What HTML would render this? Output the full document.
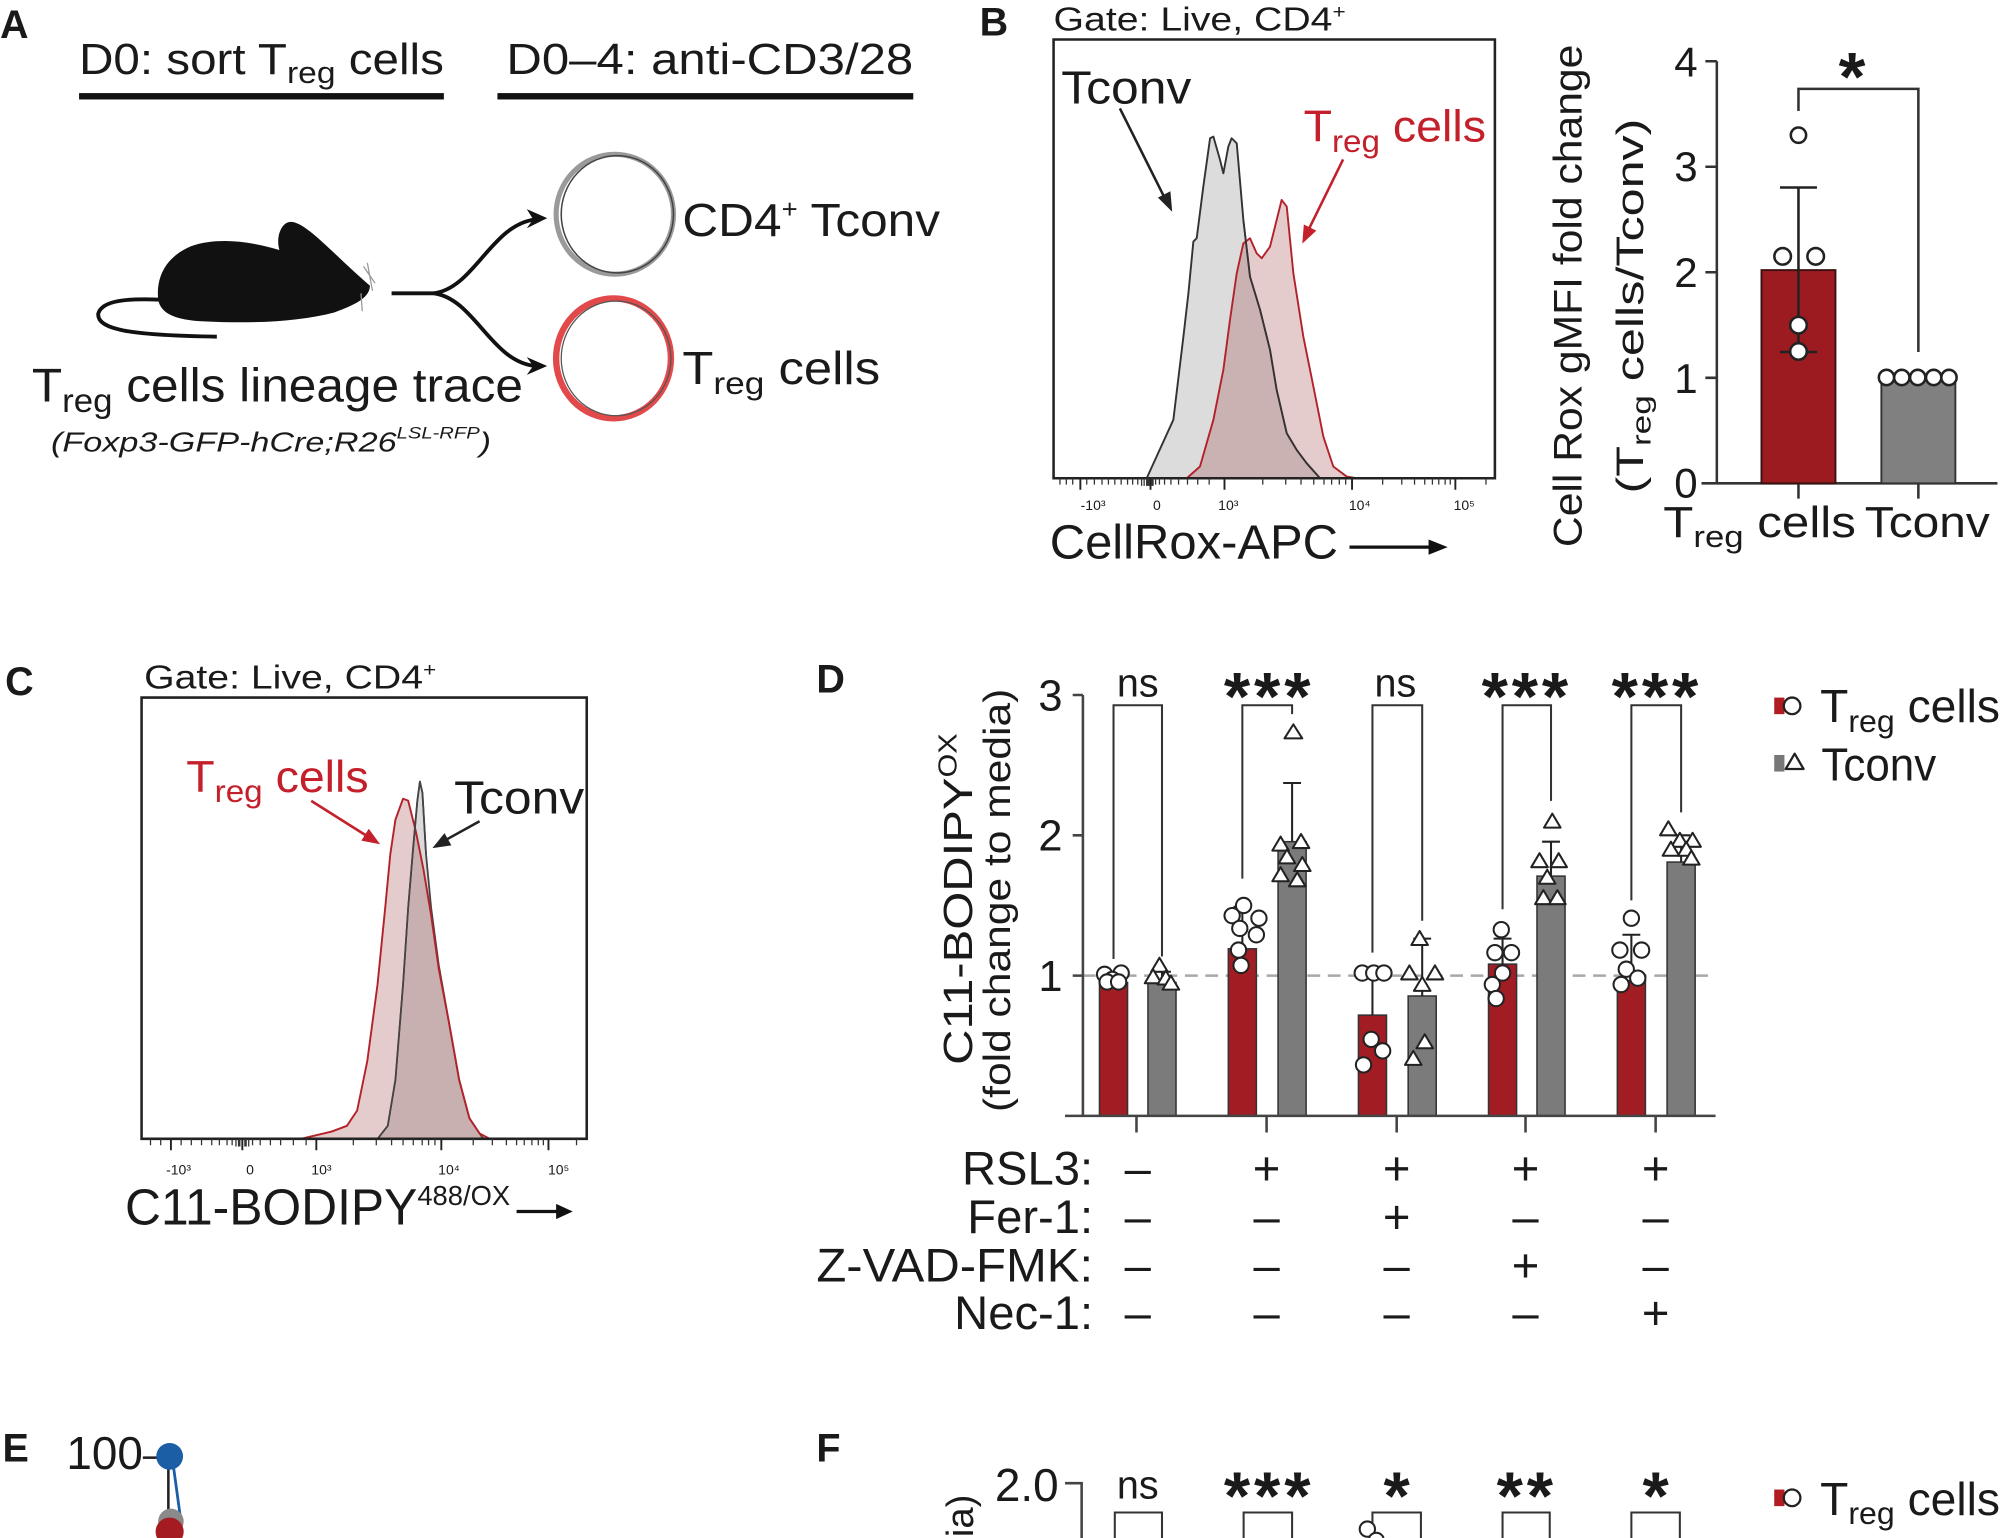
<!DOCTYPE html>
<html><head><meta charset="utf-8"><style>
html,body{margin:0;padding:0;background:#fff;width:2000px;height:1538px;overflow:hidden;}
svg{display:block;overflow:hidden;}
text{font-family:"Liberation Sans",Arial,sans-serif;fill:#1a1a1a;}
</style></head><body>
<svg width="2000" height="1538" viewBox="0 0 1568 1206" preserveAspectRatio="none" xmlns="http://www.w3.org/2000/svg">
<rect width="1568" height="1206" fill="#fff"/>

<!-- ===== Panel A ===== -->
<text x="0" y="30" font-size="31" font-weight="bold">A</text>
<text x="62" y="58" font-size="34" textLength="286" lengthAdjust="spacingAndGlyphs">D0: sort T<tspan font-size="24" dy="7">reg</tspan><tspan dy="-7"> cells</tspan></text>
<rect x="62" y="73" width="286" height="5" fill="#111"/>
<text x="397" y="58" font-size="34" textLength="319" lengthAdjust="spacingAndGlyphs">D0–4: anti-CD3/28</text>
<rect x="390" y="73" width="326" height="5" fill="#111"/>

<!-- mouse -->
<path d="M124,235 C122,214 133,200 150,193 C170,186 196,189 219,196 C216,185 221,174 228,174 C240,174 262,200 290,224 C290,232 282,238 262,245 C235,252 200,254 160,252 C138,251 126,246 124,235 Z" fill="#111"/>
<path d="M126,235 C101,234 80,235 77,246 C76,258 100,263 170,264" fill="none" stroke="#111" stroke-width="3"/>
<path d="M288,206 L292,228 M285,209 L294,222 M283,230 L284,244" stroke="#999" stroke-width="1"/>
<!-- branching arrows -->
<path d="M307,230 H340 C372,226 385,176 420,172 M340,230 C372,234 385,284 420,287" fill="none" stroke="#111" stroke-width="3"/>
<polygon points="429,171 413,164 418,172 413,179" fill="#111"/>
<polygon points="429,287 413,280 418,287 413,294" fill="#111"/>
<!-- cells -->
<ellipse cx="482" cy="168" rx="46" ry="47" fill="#fff" stroke="#9a9a9a" stroke-width="4"/>
<ellipse cx="484" cy="168" rx="44" ry="46" fill="none" stroke="#444" stroke-width="1.2"/>
<ellipse cx="481" cy="281" rx="45" ry="47" fill="#fff" stroke="#e2494b" stroke-width="5"/>
<ellipse cx="483" cy="281" rx="43" ry="45" fill="none" stroke="#555" stroke-width="1"/>
<text x="535" y="185" font-size="36" textLength="202" lengthAdjust="spacingAndGlyphs">CD4<tspan font-size="20" dy="-14">+</tspan><tspan dy="14"> Tconv</tspan></text>
<text x="535" y="301" font-size="36" textLength="155" lengthAdjust="spacingAndGlyphs">T<tspan font-size="25" dy="8">reg</tspan><tspan dy="-8"> cells</tspan></text>
<text x="25" y="315" font-size="37" textLength="385" lengthAdjust="spacingAndGlyphs">T<tspan font-size="26" dy="8">reg</tspan><tspan dy="-8"> cells lineage trace</tspan></text>
<text x="40" y="354" font-size="22" font-style="italic" textLength="345" lengthAdjust="spacingAndGlyphs">(Foxp3-GFP-hCre;R26<tspan font-size="13" dy="-10">LSL-RFP</tspan><tspan dy="10">)</tspan></text>

<!-- ===== Panel B histogram ===== -->
<text x="768" y="28" font-size="31" font-weight="bold">B</text>
<text x="826" y="24" font-size="26" textLength="229" lengthAdjust="spacingAndGlyphs">Gate: Live, CD4<tspan font-size="15" dy="-10">+</tspan></text>
<path d="M899,375 L919.9,329.2 L927.8,263.9 L931.7,230 L935.6,189.4 L938.2,186.8 L943.4,146.3 L948.7,108.4 L951.3,107.1 L956.5,125.4 L959.1,135.9 L963,115 L965.6,108.4 L969.6,112.4 L974.8,172.5 L980,216.9 L987.9,243 L995.7,274.4 L1000.9,305.7 L1008.8,339.7 L1016.6,352.8 L1024.4,363.2 L1034.9,375 Z" fill="#dcdcdc" stroke="#333" stroke-width="1.5" stroke-linejoin="round"/>
<path d="M930.4,375 L940.8,365.8 L951.3,329.2 L959.1,290 L964.3,250.9 L969.6,214.3 L974.8,190.8 L980,186.8 L985.2,198.6 L989.2,202.5 L995.7,193.4 L1000.9,172.5 L1004.8,156.8 L1008.8,162 L1014,214.3 L1021.8,263.9 L1029.7,303.1 L1037.5,342.3 L1045.3,365.8 L1055.8,373.7 L1063.6,375 Z" fill="rgba(150,50,50,0.25)" stroke="#b3222b" stroke-width="1.5" stroke-linejoin="round"/>
<path d="M974.8,172.5 L980,216.9 L987.9,243 L995.7,274.4 L1000.9,305.7 L1008.8,339.7 L1016.6,352.8 L1024.4,363.2 L1034.9,375" fill="none" stroke="#333" stroke-width="1.3"/>
<path d="M826,375 V31 H1172 V375 Z" fill="none" stroke="#222" stroke-width="2"/>
<path d="M847,375v9 M902,375v9 M960,375v9 M1060,375v9 M1141,375v9" stroke="#222" stroke-width="1.5"/>
<path d="M831,375v5 M836,375v5 M841,375v5 M852,375v5 M858,375v5 M864,375v5 M869,375v5 M874,375v5 M879,375v5 M884,375v5 M888,375v5 M892,375v5 M895,375v6 M897,375v6 M899,375v6 M900,375v6 M901,375v6 M903,375v6 M904,375v6 M906,375v5 M909,375v5 M913,375v5 M918,375v5 M924,375v5 M931,375v5 M939,375v5 M948,375v5 M990,375v5 M1008,375v5 M1020,375v5 M1030,375v5 M1038,375v5 M1044,375v5 M1050,375v5 M1055,375v5 M1084,375v5 M1099,375v5 M1109,375v5 M1117,375v5 M1123,375v5 M1128,375v5 M1133,375v5 M1137,375v5 M1165,375v5" stroke="#333" stroke-width="1"/>
<g font-size="11" fill="#444" text-anchor="middle">
<text x="857" y="400">-10³</text><text x="907" y="400">0</text><text x="963" y="400">10³</text><text x="1066" y="400">10⁴</text><text x="1148" y="400">10⁵</text>
</g>
<text x="832" y="81" font-size="36" textLength="102" lengthAdjust="spacingAndGlyphs">Tconv</text>
<path d="M878,85 L914,157" stroke="#222" stroke-width="2"/>
<polygon points="919,166 907.8,155 917.6,150" fill="#222"/>
<text x="1022" y="111" font-size="35" fill="#c3202b" style="fill:#c3202b" textLength="143" lengthAdjust="spacingAndGlyphs">T<tspan font-size="25" dy="8">reg</tspan><tspan dy="-8"> cells</tspan></text>
<path d="M1053,125 L1025,182" stroke="#c3202b" stroke-width="2"/>
<polygon points="1021,191 1022.2,176 1032,180.8" fill="#c3202b"/>
<text x="823" y="438" font-size="38" textLength="226" lengthAdjust="spacingAndGlyphs">CellRox-APC</text>
<path d="M1058,429 H1124" stroke="#111" stroke-width="2.5"/>
<polygon points="1135,429 1120,423 1120,435" fill="#111"/>

<!-- ===== Panel B bar chart ===== -->
<text transform="translate(1240,232) rotate(-90)" text-anchor="middle" font-size="31" textLength="394" lengthAdjust="spacingAndGlyphs">Cell Rox gMFI fold change</text>
<text transform="translate(1288,240) rotate(-90)" text-anchor="middle" font-size="30" textLength="294" lengthAdjust="spacingAndGlyphs">(T<tspan font-size="21" dy="6">reg</tspan><tspan dy="-6"> cells/Tconv)</tspan></text>
<g font-size="33" text-anchor="end">
<text x="1331" y="60">4</text><text x="1331" y="142">3</text><text x="1331" y="225">2</text><text x="1331" y="308">1</text><text x="1331" y="390">0</text>
</g>
<path d="M1346,48 V379 M1337,48 H1346 M1337,130.75 H1346 M1337,213.5 H1346 M1337,296.25 H1346 M1334,379 H1566 M1410,379 V391 M1504,379 V391" stroke="#333" stroke-width="2" fill="none"/>
<rect x="1381" y="211.8" width="58" height="167.2" fill="#9c1b20" stroke="#3a1010" stroke-width="1.5"/>
<rect x="1475" y="297.9" width="58" height="81.1" fill="#808080" stroke="#333" stroke-width="1.5"/>
<path d="M1410,147 V276 M1395.5,147 H1424.5 M1395.5,276 H1424.5" stroke="#222" stroke-width="2"/>
<g fill="#fff" stroke="#222" stroke-width="2">
<circle cx="1410" cy="106" r="6"/><circle cx="1397.6" cy="201" r="6.5"/><circle cx="1423.5" cy="201" r="6.5"/><circle cx="1410" cy="255" r="6.5"/><circle cx="1410" cy="275.6" r="6.5"/>
<circle cx="1479" cy="296" r="6"/><circle cx="1491" cy="296" r="6"/><circle cx="1503.5" cy="296" r="6"/><circle cx="1516" cy="296" r="6"/><circle cx="1528" cy="296" r="6"/>
</g>
<path d="M1410,87 V69.7 H1504 V276" fill="none" stroke="#333" stroke-width="2"/>
<text x="1452" y="79" font-size="54" font-weight="bold" text-anchor="middle">*</text>
<text x="1304" y="421" font-size="34" textLength="151" lengthAdjust="spacingAndGlyphs">T<tspan font-size="24" dy="8">reg</tspan><tspan dy="-8"> cells</tspan></text>
<text x="1462" y="421" font-size="34" textLength="98" lengthAdjust="spacingAndGlyphs">Tconv</text>

<!-- ===== Panel C ===== -->
<text x="4" y="545" font-size="31" font-weight="bold">C</text>
<text x="113" y="540" font-size="26" textLength="229" lengthAdjust="spacingAndGlyphs">Gate: Live, CD4<tspan font-size="15" dy="-10">+</tspan></text>
<path d="M296,893 L304,882.8 L310,846.8 L316,771.8 L320,711.8 L324,663.8 L327.2,627.8 L329.2,612.8 L331.2,621.8 L334,669.8 L338,711.8 L344,756.8 L352,801.8 L360,846.8 L368,876.8 L378,891.8 L380,893 Z" fill="#dadada" stroke="#444" stroke-width="1.4" stroke-linejoin="round"/>
<path d="M236,893 L260,887.3 L272,882.8 L280,870.8 L288,831.8 L296,771.8 L302,711.8 L306,669.8 L310,642.8 L316,626.3 L320,627.8 L326,651.8 L332,681.8 L338,717.8 L344,759.8 L352,801.8 L360,846.8 L368,876.8 L376,888.8 L384,893 Z" fill="rgba(150,50,50,0.25)" stroke="#b3222b" stroke-width="1.5" stroke-linejoin="round"/>
<path d="M296,893 L304,882.8 L310,846.8 L316,771.8 L320,711.8 L324,663.8 L327.2,627.8 L329.2,612.8 L331.2,621.8 L334,669.8" fill="none" stroke="#444" stroke-width="1.3"/>
<path d="M111,893 V547 H460 V893 Z" fill="none" stroke="#222" stroke-width="2"/>
<path d="M134,893v9 M190,893v9 M248,893v9 M346,893v9 M430,893v9" stroke="#222" stroke-width="1.5"/>
<path d="M118,893v5 M126,893v5 M142,893v5 M150,893v5 M158,893v5 M166,893v5 M172,893v5 M178,893v5 M182,893v5 M185,893v6 M187,893v6 M188,893v6 M192,893v6 M193,893v6 M195,893v6 M198,893v5 M204,893v5 M212,893v5 M220,893v5 M230,893v5 M240,893v5 M277,893v5 M295,893v5 M307,893v5 M316,893v5 M324,893v5 M331,893v5 M336,893v5 M341,893v5 M371,893v5 M386,893v5 M397,893v5 M405,893v5 M411,893v5 M417,893v5 M422,893v5 M426,893v5 M452,893v5" stroke="#333" stroke-width="1"/>
<g font-size="11" fill="#444" text-anchor="middle">
<text x="140" y="921">-10³</text><text x="196" y="921">0</text><text x="252" y="921">10³</text><text x="352" y="921">10⁴</text><text x="438" y="921">10⁵</text>
</g>
<text x="146" y="621" font-size="35" fill="#c3202b" style="fill:#c3202b" textLength="143" lengthAdjust="spacingAndGlyphs">T<tspan font-size="25" dy="8">reg</tspan><tspan dy="-8"> cells</tspan></text>
<path d="M244,628 L290,657" stroke="#c3202b" stroke-width="2"/>
<polygon points="298,662 283.3,659.2 289.1,649.9" fill="#c3202b"/>
<text x="356" y="638" font-size="36" textLength="102" lengthAdjust="spacingAndGlyphs">Tconv</text>
<path d="M376,644 L347,660" stroke="#222" stroke-width="2"/>
<polygon points="339,665 348.5,653.3 353.9,662.9" fill="#222"/>
<text x="98" y="960" font-size="40" textLength="302" lengthAdjust="spacingAndGlyphs">C11-BODIPY<tspan font-size="22" dy="-15">488/OX</tspan></text>
<path d="M405,950 H440" stroke="#111" stroke-width="2.5"/>
<polygon points="449,950 436,944 436,956" fill="#111"/>

<!-- ===== Panel D ===== -->
<text x="640" y="543" font-size="31" font-weight="bold">D</text>
<text transform="translate(762,705) rotate(-90)" text-anchor="middle" font-size="32" textLength="260" lengthAdjust="spacingAndGlyphs">C11-BODIPY<tspan font-size="20" dy="-12">OX</tspan></text>
<text transform="translate(792,706) rotate(-90)" text-anchor="middle" font-size="30" textLength="332" lengthAdjust="spacingAndGlyphs">(fold change to media)</text>
<g font-size="34" text-anchor="end">
<text x="833" y="557">3</text><text x="833" y="667">2</text><text x="833" y="777">1</text>
</g>
<path d="M849,765 H1345" stroke="#a8a8a8" stroke-width="2" stroke-dasharray="10 6"/>
<g stroke="#333" stroke-width="1.2">
<rect x="862" y="770.5" width="22" height="104.5" fill="#a11d23"/>
<rect x="900" y="770.5" width="22" height="104.5" fill="#7b7b7b"/>
<rect x="963" y="744" width="22" height="131" fill="#a11d23"/>
<rect x="1002" y="660" width="22" height="215" fill="#7b7b7b"/>
<rect x="1065" y="796" width="22" height="79" fill="#a11d23"/>
<rect x="1104" y="781" width="22" height="94" fill="#7b7b7b"/>
<rect x="1167" y="756" width="22" height="119" fill="#a11d23"/>
<rect x="1205" y="687" width="22" height="188" fill="#7b7b7b"/>
<rect x="1268" y="769" width="22" height="106" fill="#a11d23"/>
<rect x="1307" y="676" width="22" height="199" fill="#7b7b7b"/>
</g>
<path d="M849,545 V875 M841,545 H849 M841,655 H849 M841,765 H849 M835,875 H1345 M891,875 V888 M993,875 V888 M1095,875 V888 M1196,875 V888 M1298,875 V888" stroke="#444" stroke-width="2" fill="none"/>
<!-- error bars -->
<path d="M873,770 V762 M866,762 H880 M911,770 V762 M904,762 H918 M974,744 V711 M967,711 H981 M1013,660 V614 M1006,614 H1020 M1076,796 V762 M1069,762 H1083 M1115,781 V736 M1108,736 H1122 M1178,756 V736 M1171,736 H1185 M1216,687 V660 M1209,660 H1223 M1279,769 V733 M1272,733 H1286 M1318,676 V655 M1311,655 H1325" stroke="#222" stroke-width="1.6"/>
<!-- brackets -->
<path d="M873,752 V553 H911 V750 M974,689 V553 H1013 V560 M1076,747 V553 H1115 V722 M1178,713 V553 H1216 V628 M1279,706 V553 H1318 V637" fill="none" stroke="#333" stroke-width="1.6"/>
<g fill="#fff" stroke="#222" stroke-width="1.6">
<circle cx="866" cy="764" r="6"/><circle cx="879" cy="763" r="6"/><circle cx="872" cy="768" r="6"/><circle cx="868" cy="770" r="6"/><circle cx="877" cy="770" r="6"/>
<circle cx="975" cy="710" r="6"/><circle cx="966" cy="718" r="6"/><circle cx="987" cy="720" r="6"/><circle cx="972" cy="728" r="6"/><circle cx="985" cy="733" r="6"/><circle cx="971" cy="745" r="6"/><circle cx="973" cy="757" r="6"/>
<circle cx="1068" cy="763" r="6"/><circle cx="1077" cy="763" r="6"/><circle cx="1085" cy="763" r="6"/><circle cx="1075" cy="815" r="6"/><circle cx="1084" cy="824" r="6"/><circle cx="1069" cy="835" r="6"/>
<circle cx="1177" cy="729" r="6"/><circle cx="1172" cy="747" r="6"/><circle cx="1185" cy="747" r="6"/><circle cx="1178" cy="763" r="6"/><circle cx="1170" cy="772" r="6"/><circle cx="1173" cy="783" r="6"/>
<circle cx="1279" cy="720" r="6"/><circle cx="1270" cy="745" r="6"/><circle cx="1287" cy="745" r="6"/><circle cx="1275" cy="760" r="6"/><circle cx="1284" cy="767" r="6"/><circle cx="1271" cy="772" r="6"/>
</g>
<g fill="#fff" stroke="#222" stroke-width="1.6" stroke-linejoin="round">
<polygon points="909,751 902.5,762 915.5,762"/><polygon points="904,760 897.5,771 910.5,771"/><polygon points="914,761 907.5,772 920.5,772"/><polygon points="918,765 911.5,776 924.5,776"/>
<polygon points="1014,568 1007,579 1021,579"/><polygon points="1004,656 997.5,667 1010.5,667"/><polygon points="1020,654 1013.5,665 1026.5,665"/><polygon points="1009,666 1002.5,677 1015.5,677"/><polygon points="1021,672 1014.5,683 1027.5,683"/><polygon points="1004,680 997.5,691 1010.5,691"/><polygon points="1017,684 1010.5,695 1023.5,695"/>
<polygon points="1113,730 1106.5,741 1119.5,741"/><polygon points="1105,757 1098.5,768 1111.5,768"/><polygon points="1125,757 1118.5,768 1131.5,768"/><polygon points="1115,766 1108.5,777 1121.5,777"/><polygon points="1117,811 1110.5,822 1123.5,822"/><polygon points="1108,824 1101.5,835 1114.5,835"/>
<polygon points="1217,638 1210.5,649 1223.5,649"/><polygon points="1207,669 1200.5,680 1213.5,680"/><polygon points="1222,669 1215.5,680 1228.5,680"/><polygon points="1213,682 1206.5,693 1219.5,693"/><polygon points="1210,698 1203.5,709 1216.5,709"/><polygon points="1221,698 1214.5,709 1227.5,709"/>
<polygon points="1308,644 1301.5,655 1314.5,655"/><polygon points="1317,653 1310.5,664 1323.5,664"/><polygon points="1327,653 1320.5,664 1333.5,664"/><polygon points="1310,660 1303.5,671 1316.5,671"/><polygon points="1322,660 1315.5,671 1328.5,671"/><polygon points="1326,667 1319.5,678 1332.5,678"/>
</g>
<g text-anchor="middle">
<text x="892" y="546" font-size="31">ns</text>
<text x="1094" y="546" font-size="31">ns</text>
<text x="995" y="564" font-size="53" font-weight="bold" letter-spacing="3">***</text>
<text x="1197" y="564" font-size="53" font-weight="bold" letter-spacing="3">***</text>
<text x="1299" y="564" font-size="53" font-weight="bold" letter-spacing="3">***</text>
</g>
<g font-size="37" text-anchor="end">
<text x="857" y="929">RSL3:</text>
<text x="857" y="967">Fer-1:</text>
<text x="857" y="1005" textLength="217" lengthAdjust="spacingAndGlyphs">Z-VAD-FMK:</text>
<text x="857" y="1042">Nec-1:</text>
</g>
<g font-size="37" text-anchor="middle">
<text x="892" y="929">–</text><text x="993" y="929">+</text><text x="1095" y="929">+</text><text x="1196" y="929">+</text><text x="1298" y="929">+</text>
<text x="892" y="967">–</text><text x="993" y="967">–</text><text x="1095" y="967">+</text><text x="1196" y="967">–</text><text x="1298" y="967">–</text>
<text x="892" y="1005">–</text><text x="993" y="1005">–</text><text x="1095" y="1005">–</text><text x="1196" y="1005">+</text><text x="1298" y="1005">–</text>
<text x="892" y="1042">–</text><text x="993" y="1042">–</text><text x="1095" y="1042">–</text><text x="1196" y="1042">–</text><text x="1298" y="1042">+</text>
</g>
<!-- legend D -->
<rect x="1391" y="547" width="8" height="13" fill="#b01c22"/>
<circle cx="1405" cy="553.5" r="6.5" fill="#fff" stroke="#222" stroke-width="1.8"/>
<text x="1427" y="566" font-size="36" textLength="141" lengthAdjust="spacingAndGlyphs">T<tspan font-size="25" dy="8">reg</tspan><tspan dy="-8"> cells</tspan></text>
<rect x="1391" y="592" width="8" height="13" fill="#777"/>
<polygon points="1407,591 1400,603 1414,603" fill="#fff" stroke="#222" stroke-width="1.8" stroke-linejoin="round"/>
<text x="1428" y="612" font-size="36" textLength="90" lengthAdjust="spacingAndGlyphs">Tconv</text>

<!-- ===== Panel E ===== -->
<text x="2" y="1146" font-size="31" font-weight="bold">E</text>
<text x="52" y="1152" font-size="36" textLength="60" lengthAdjust="spacingAndGlyphs">100</text>
<path d="M112,1143 H124" stroke="#222" stroke-width="2"/>
<path d="M132,1150 V1192" stroke="#222" stroke-width="2"/>
<path d="M136,1150 L142,1194" stroke="#1b5ea6" stroke-width="2.2"/>
<circle cx="133" cy="1142" r="10.5" fill="#1b5ea6"/>
<circle cx="134" cy="1193" r="10" fill="#8a8a8a"/>
<path d="M123.2,1206 A11,11 0 1,1 142.8,1206 Z" fill="#a41c22"/>

<!-- ===== Panel F ===== -->
<text x="640" y="1146" font-size="31" font-weight="bold">F</text>
<text x="830" y="1177" font-size="36" text-anchor="end">2.0</text>
<path d="M835,1163 H848 V1206" fill="none" stroke="#444" stroke-width="2"/>
<text transform="translate(763,1172) rotate(-90)" text-anchor="end" font-size="30">ia)</text>
<g text-anchor="middle">
<text x="892" y="1175" font-size="31">ns</text>
<text x="995" y="1191" font-size="53" font-weight="bold" letter-spacing="3">***</text>
<text x="1095" y="1191" font-size="53" font-weight="bold">*</text>
<text x="1197" y="1191" font-size="53" font-weight="bold" letter-spacing="3">**</text>
<text x="1298" y="1191" font-size="53" font-weight="bold">*</text>
</g>
<path d="M874,1206 V1186 H911 V1206 M975,1206 V1186 H1013 V1206 M1076,1206 V1186 H1114 V1206 M1178,1206 V1186 H1215 V1206 M1279,1206 V1186 H1317 V1206" fill="none" stroke="#333" stroke-width="1.6"/>
<circle cx="1072" cy="1199" r="6" fill="#fff" stroke="#222" stroke-width="1.6"/>
<path d="M1073.3,1206 A6,6 0 0,1 1084.7,1206" fill="#fff" stroke="#222" stroke-width="1.6"/>
<rect x="1391" y="1168" width="8" height="13" fill="#b01c22"/>
<circle cx="1405" cy="1174.5" r="6.5" fill="#fff" stroke="#222" stroke-width="1.8"/>
<text x="1427" y="1188" font-size="36" textLength="141" lengthAdjust="spacingAndGlyphs">T<tspan font-size="25" dy="7">reg</tspan><tspan dy="-7"> cells</tspan></text>
</svg>
</body></html>
